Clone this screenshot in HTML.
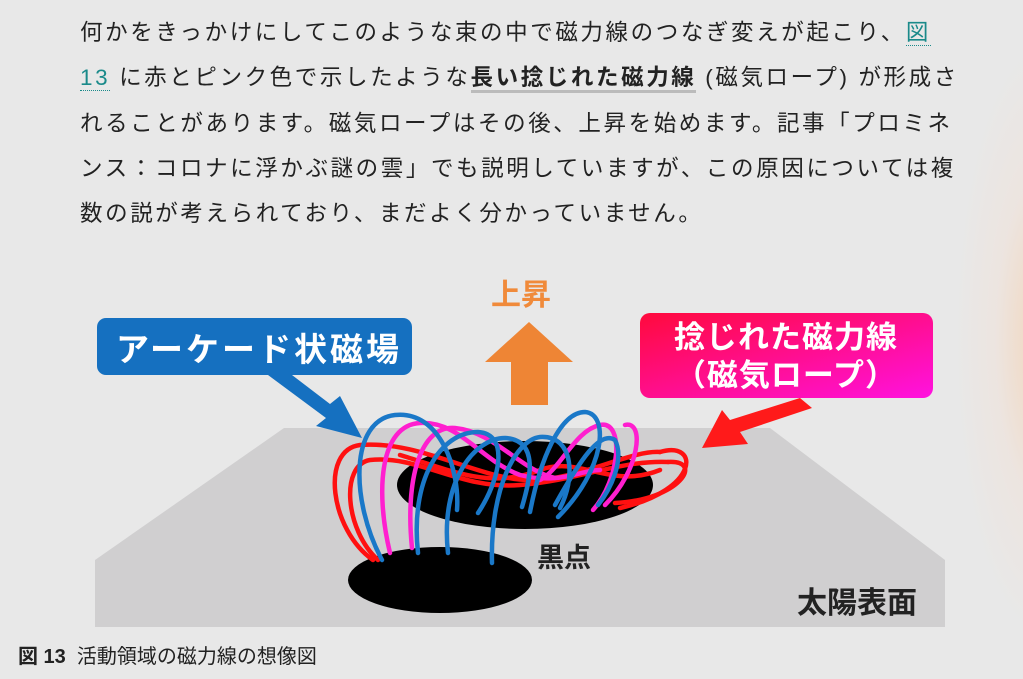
<!DOCTYPE html>
<html><head><meta charset="utf-8"><style>
html,body{margin:0;padding:0}
body{width:1023px;height:679px;overflow:hidden;position:relative;
background:radial-gradient(ellipse 90px 300px at 1045px 340px,rgba(255,190,130,0.45),rgba(255,215,190,0.2) 55%,rgba(232,232,232,0) 100%),#e8e8e8;
font-family:"Liberation Sans","Noto Sans CJK JP",sans-serif;}
.p{position:absolute;left:80px;top:10px;width:920px;font-size:22.5px;line-height:45.3px;color:#222;letter-spacing:2.6px}
.p a{color:#1a8a8a;text-decoration:none;border-bottom:1px dotted #1a8a8a}
.p b{border-bottom:3px solid #bbb}
.cap{position:absolute;left:18px;top:640px;font-size:20px;color:#222}
svg{position:absolute;left:0;top:0}
</style></head><body>
<div class="p">何かをきっかけにしてこのような束の中で磁力線のつなぎ変えが起こり、<a>図<br>13</a> に赤とピンク色で示したような<b>長い捻じれた磁力線</b> (磁気ロープ) が形成さ<br>れることがあります。磁気ロープはその後、上昇を始めます。記事「プロミネ<br>ンス：コロナに浮かぶ謎の雲」でも説明していますが、この原因については複<br>数の説が考えられており、まだよく分かっていません。</div>
<svg width="1023" height="679" viewBox="0 0 1023 679">
<polygon points="95,560 284,428 770,428 945,560 945,627 95,627" fill="#d0cfd0"/>
<ellipse cx="525" cy="485" rx="128" ry="44" fill="#000"/>
<ellipse cx="440" cy="580" rx="92" ry="33" fill="#000"/>
<g fill="none" stroke-width="4.5" stroke-linecap="round">
<path d="M373,560 C330,530 320,450 360,445 C420,440 480,480 530,480 C580,480 630,450 660,452" stroke="#ff1010"/>
<path d="M378,560 C345,530 340,465 370,460 C420,455 460,490 520,485 C580,480 620,460 668,462" stroke="#ff1010"/>
<path d="M660,452 C700,440 700,490 620,508" stroke="#ff1010"/>
<path d="M668,462 C705,460 680,500 615,503" stroke="#ff1010"/>
<path d="M400,455 C450,470 490,490 540,470 C580,455 610,490 660,470" stroke="#ff1010"/>
<path d="M390,553 C375,490 380,425 420,423 C460,421 480,460 520,475 C560,485 580,470 600,470" stroke="#ff1fcf"/>
<path d="M412,548 C405,480 420,425 455,428 C495,432 520,470 555,478" stroke="#ff1fcf"/>
<path d="M593,510 C620,480 625,420 600,425 C575,430 560,470 540,480" stroke="#ff1fcf"/>
<path d="M605,505 C640,470 645,420 625,425" stroke="#ff1fcf"/>
<path d="M382,560 C350,500 350,420 395,415 C440,410 460,470 457,510" stroke="#1a78c8"/>
<path d="M418,553 C410,480 440,432 478,432 C510,434 500,480 478,513" stroke="#1a78c8"/>
<path d="M448,553 C440,480 475,438 505,438 C540,440 530,480 522,507" stroke="#1a78c8"/>
<path d="M492,563 C490,490 515,440 540,437 C575,435 575,480 560,508" stroke="#1a78c8"/>
<path d="M530,512 C540,460 560,412 585,412 C610,414 605,470 558,517" stroke="#1a78c8"/>
<path d="M555,505 C580,460 600,430 615,440 C625,460 610,490 598,505" stroke="#1a78c8"/>
</g>
<rect x="97" y="318" width="315" height="57" rx="9" fill="#1570c0"/>
<text x="116" y="361" font-size="33" font-weight="bold" fill="#fff" font-family="Liberation Sans,Noto Sans CJK JP,sans-serif" letter-spacing="3">アーケード状磁場</text>
<polygon points="268,375 292,375 330,404 340,396 362,438 316,426 326,418" fill="#1570c0"/>
<text x="491" y="305" font-size="30" font-weight="bold" fill="#f08a3a" font-family="Liberation Sans,Noto Sans CJK JP,sans-serif">上昇</text>
<polygon points="529,322 573,362 548,362 548,405 511,405 511,362 485,362" fill="#ee8535"/>
<defs><linearGradient id="g" x1="0" y1="0" x2="1" y2="1"><stop offset="0" stop-color="#ff0a3c"/><stop offset="1" stop-color="#ff12e0"/></linearGradient></defs>
<rect x="640" y="313" width="293" height="85" rx="10" fill="url(#g)"/>
<text x="786" y="348" text-anchor="middle" font-size="31" font-weight="bold" fill="#fff" font-family="Liberation Sans,Noto Sans CJK JP,sans-serif" letter-spacing="1">捻じれた磁力線</text>
<text x="786" y="386" text-anchor="middle" font-size="31" font-weight="bold" fill="#fff" font-family="Noto Sans CJK JP,sans-serif" letter-spacing="1">（磁気ロープ）</text>
<polygon points="800,398 812,408 740,432 748,444 702,448 722,410 730,420" fill="#ff1a1a"/>
<text x="537" y="567" font-size="27" font-weight="bold" fill="#222" font-family="Liberation Sans,Noto Sans CJK JP,sans-serif">黒点</text>
<text x="797" y="613" font-size="30" font-weight="bold" fill="#222" font-family="Liberation Sans,Noto Sans CJK JP,sans-serif">太陽表面</text>
</svg>
<div class="cap"><b>図 13</b>&nbsp;&nbsp;活動領域の磁力線の想像図</div>
</body></html>
